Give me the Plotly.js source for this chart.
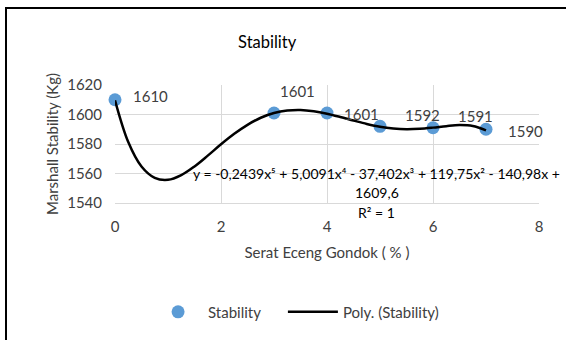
<!DOCTYPE html>
<html>
<head>
<meta charset="utf-8">
<script src="https://cdn.plot.ly/plotly-3.0.1.min.js"></script>
<style>
  html, body { margin: 0; padding: 0; background: #fff; }
  #wrap { position: relative; width: 566px; height: 340px; overflow: hidden; }
  #chart { position: absolute; left: 0; top: 0; width: 566px; height: 340px; }
  #frame { position: absolute; left: 5px; top: 7px; width: 600px; height: 400px;
           border-left: 2px solid #000; border-top: 2px solid #000; pointer-events: none; }
</style>
</head>
<body>
<div id="wrap"><div id="chart"></div><div id="frame"></div></div>
<script>
// Measured data
const fiberPct = [0, 3, 4, 5, 6, 7];
const stability = [1610, 1601, 1601, 1592, 1591, 1590];
const dataLabels = ['1610', '1601', '1601', '1592', '1591', '1590'];

// Polynomial trendline
const trendX = [0, 0.25, 0.5, 0.75, 1, 1.25, 1.5, 1.75, 2, 2.25, 2.5, 2.75, 3, 3.25, 3.5,
                3.75, 4, 4.25, 4.5, 4.75, 5, 5.25, 5.5, 5.75, 6, 6.25, 6.5, 6.75, 7];
const trendY = [1609.6, 1581.3, 1564.7, 1557.0, 1555.7, 1558.9, 1564.8, 1572.1, 1579.8,
                1586.9, 1593.0, 1597.8, 1601.0, 1602.7, 1603.1, 1602.2, 1600.5, 1598.3,
                1595.9, 1593.6, 1591.7, 1590.5, 1590.0, 1590.3, 1591.1, 1592.1, 1592.8,
                1592.2, 1589.2];

const xTicks = [0, 2, 4, 6, 8];
const yTicks = [1540, 1560, 1580, 1600, 1620];

const eqLines = ['y = -0,2439x⁵ + 5,0091x⁴ - 37,402x³ + 119,75x² - 140,98x +', '1609,6', 'R² = 1'];

const FONT = 'Lato, "Open Sans", sans-serif';
const FS = 15;

const traces = [
  {
    x: fiberPct, y: stability, type: 'scatter', mode: 'markers', name: 'Stability',
    marker: { color: '#5b9bd5', size: 13 },
    cliponaxis: false, legend: 'legend'
  },
  {
    x: trendX, y: trendY, type: 'scatter', mode: 'lines', name: 'Poly. (Stability)',
    line: { color: '#000000', width: 2.5, shape: 'spline' },
    cliponaxis: false, legend: 'legend2'
  }
];

const labelShift = [[35, 4], [23, 22], [34, -1], [42, 11], [42, 12], [39, -2]];
const annotations = fiberPct.map((x, i) => ({
  x: x, y: stability[i], xref: 'x', yref: 'y', text: dataLabels[i], showarrow: false,
  xshift: labelShift[i][0], yshift: labelShift[i][1],
  font: { family: FONT, size: FS, color: '#404040' }
}));
eqLines.forEach((t, i) => {
  annotations.push({
    x: 4.94, y: 1560.3, xref: 'x', yref: 'y', yshift: -19.5 * i, text: t, showarrow: false,
    font: { family: FONT, size: 14, color: '#000000' }
  });
});

const legendBase = {
  orientation: 'h', xanchor: 'left', y: -0.924, yanchor: 'middle', itemwidth: 50,
  font: { family: FONT, size: FS, color: '#404040' }, bgcolor: 'rgba(0,0,0,0)'
};

const layout = {
  width: 566, height: 340,
  margin: { l: 115, r: 27, t: 85, b: 137 },
  paper_bgcolor: '#ffffff', plot_bgcolor: '#ffffff',
  font: { family: FONT, size: FS, color: '#595959' },
  title: { text: 'Stability', x: 0.472, xref: 'container', xanchor: 'center', y: 0.876, yanchor: 'middle',
           font: { family: FONT, size: 16.5, color: '#000000' } },
  xaxis: {
    range: [0, 8], tickvals: xTicks, ticktext: xTicks.map(String),
    showgrid: true, gridcolor: '#d9d9d9', gridwidth: 1, zeroline: false,
    showline: true, linecolor: '#d9d9d9', ticks: '', ticklabelstandoff: 10,
    tickfont: { family: FONT, size: FS, color: '#404040' },
    title: { text: 'Serat Eceng Gondok ( % )', standoff: 13, font: { family: FONT, size: FS, color: '#404040' } }
  },
  yaxis: {
    range: [1540, 1620], tickvals: yTicks, ticktext: yTicks.map(String),
    showgrid: true, gridcolor: '#d9d9d9', gridwidth: 1, zeroline: false,
    showline: false, ticks: '', ticklabelstandoff: 12,
    tickfont: { family: FONT, size: FS, color: '#404040' },
    title: { text: 'Marshall Stability (Kg)', standoff: 4, font: { family: FONT, size: FS, color: '#404040' } }
  },
  showlegend: true,
  legend: Object.assign({}, legendBase, { x: 0.078 }),
  legend2: Object.assign({}, legendBase, { x: 0.396 }),
  annotations: annotations
};

Plotly.newPlot('chart', traces, layout, { staticPlot: true, displayModeBar: false });
</script>
</body>
</html>
